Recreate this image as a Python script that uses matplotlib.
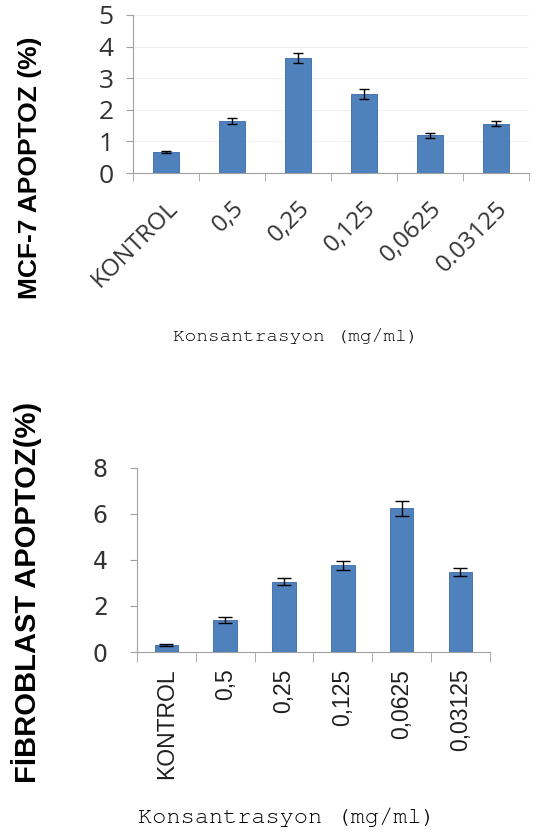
import matplotlib.pyplot as plt
import numpy as np
import warnings

warnings.filterwarnings("ignore")

kategoriler = ['KONTROL', '0,5', '0,25', '0,125', '0,0625', '0.03125']
kategoriler_fib = ['KONTROL', '0,5', '0,25', '0,125', '0,0625', '0,03125']

mcf7 = [0.67, 1.64, 3.64, 2.50, 1.19, 1.56]
mcf7_err = [0.03, 0.09, 0.17, 0.16, 0.07, 0.08]

fib = [0.30, 1.40, 3.06, 3.76, 6.23, 3.47]
fib_err = [0.03, 0.13, 0.17, 0.19, 0.34, 0.17]

mavi = '#4f81bd'
gri = '#333333'
narrow = ['Liberation Sans Narrow', 'Liberation Sans', 'DejaVu Sans']
mono = ['Nimbus Mono PS', 'FreeMono', 'Courier New', 'Liberation Mono', 'DejaVu Sans Mono']

fig = plt.figure(figsize=(5.42, 8.32), dpi=100)

##MCF-7
ax1 = fig.add_axes([0.2454, 0.792, 0.73, 0.190])
x = np.arange(len(mcf7))
ax1.bar(x, mcf7, width=0.39, color=mavi, edgecolor='#3a6aa8', linewidth=0.6, zorder=3)
ax1.errorbar(x, mcf7, yerr=mcf7_err, fmt='none', ecolor='black', elinewidth=1.0, capsize=3.8, capthick=1.0, zorder=4)
ax1.set_xlim(-0.5, 5.5)
ax1.set_ylim(0, 5)
ax1.set_yticks(range(0, 6))
ax1.yaxis.grid(True, color='#f0f0f0', linewidth=0.8, zorder=0)
ax1.set_xticks(x)
ax1.set_xticklabels(kategoriler, rotation=45, ha='right', va='top', rotation_mode='anchor',
                    fontsize=17.5, color=gri, family=['Open Sans', 'DejaVu Sans'])
ax1.tick_params(axis='x', which='major', length=0, pad=17)
ax1.set_xticks(np.arange(-0.5, 6, 1), minor=True)
ax1.tick_params(axis='x', which='minor', length=6, color='#a0a0a0', direction='out')
ax1.tick_params(axis='y', length=5, color='#a0a0a0', labelsize=19, labelcolor=gri, pad=9)
for lab in ax1.get_yticklabels():
    lab.set_family(['Open Sans', 'DejaVu Sans'])
for s in ['top', 'right']:
    ax1.spines[s].set_visible(False)
for s in ['left', 'bottom']:
    ax1.spines[s].set_color('#a0a0a0')
fig.text(30 / 542, 1 - 168 / 832, 'MCF-7 APOPTOZ (%)', rotation=90, ha='center', va='center',
         fontsize=19, fontweight='bold', family=narrow)
fig.text(0.546, 1 - 336 / 832, 'Konsantrasyon (mg/ml)', ha='center', va='center',
         fontsize=14, family=mono)

##Fibroblast
ax2 = fig.add_axes([0.2528, 0.2163, 0.651, 0.2216])
ax2.bar(x, fib, width=0.40, color=mavi, edgecolor='#3a6aa8', linewidth=0.6, zorder=3)
ax2.errorbar(x, fib, yerr=fib_err, fmt='none', ecolor='black', elinewidth=1.0, capsize=4.7, capthick=1.0, zorder=4)
ax2.set_xlim(-0.5, 5.5)
ax2.set_ylim(0, 8)
ax2.set_yticks([0, 2, 4, 6, 8])
ax2.set_xticks(x)
ax2.set_xticklabels(kategoriler_fib, rotation=90, ha='center', va='top',
                    fontsize=16.5, color='#202020', family=narrow)
ax2.tick_params(axis='x', which='major', length=0, pad=12)
ax2.set_xticks(np.arange(-0.5, 6, 1), minor=True)
ax2.tick_params(axis='x', which='minor', length=7, color='#a0a0a0', direction='out')
ax2.tick_params(axis='y', length=5, color='#a0a0a0', labelsize=17, labelcolor=gri, pad=16)
for s in ['top', 'right']:
    ax2.spines[s].set_visible(False)
for s in ['left', 'bottom']:
    ax2.spines[s].set_color('#a0a0a0')
fig.text(27 / 542, 1 - 592 / 832, 'FİBROBLAST APOPTOZ(%)', rotation=90, ha='center', va='center',
         fontsize=21, fontweight='bold', family=narrow)
fig.text(0.53, 1 - 817 / 832, 'Konsantrasyon (mg/ml)', ha='center', va='center',
         fontsize=17, family=mono)

plt.savefig('out.png', dpi=100)
plt.close()
